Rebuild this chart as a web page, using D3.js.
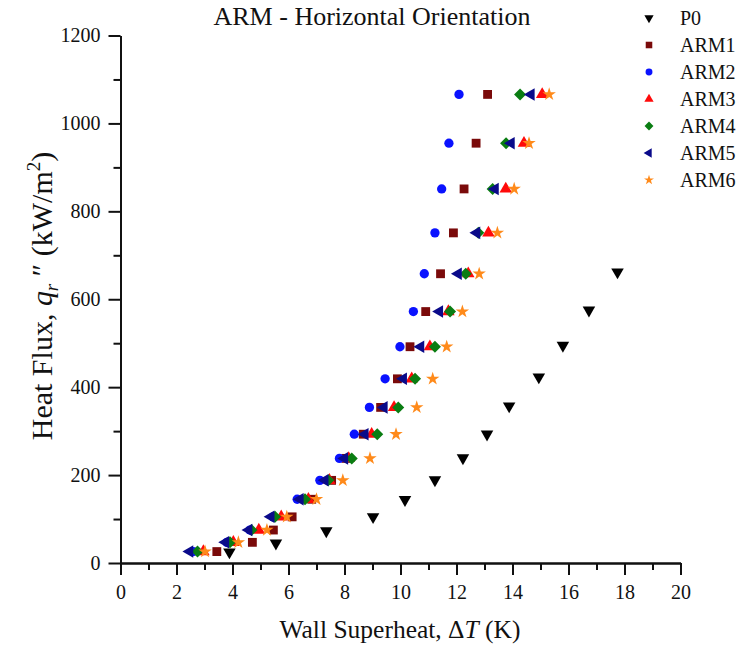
<!DOCTYPE html>
<html>
<head>
<meta charset="utf-8">
<script src="https://cdn.jsdelivr.net/npm/d3@7"></script>
<style>
  body { margin: 0; background: #fff; }
  text { font-family: "Liberation Serif", "Times New Roman", serif; fill: #111; }
</style>
</head>
<body>
<svg id="chart" width="741" height="648"></svg>
<script>
// Boiling curves: wall superheat (K) against heat flux (kW/m^2)
const seriesNames = ["P0", "ARM1", "ARM2", "ARM3", "ARM4", "ARM5", "ARM6"];

const p0Superheat = [3.89, 5.55, 7.35, 9.02, 10.16, 11.23, 12.23, 13.09, 13.88, 14.94, 15.80, 16.73, 17.75];
const p0Flux      = [25, 45, 73, 105, 144, 189, 239, 293, 357, 423, 495, 575, 662];

const armFlux = [26, 47, 75, 105, 145, 188, 238, 293, 354, 419, 492, 572, 658, 751, 851, 955, 1066];
const arm1Superheat = [3.44, 4.71, 5.46, 6.13, 6.83, 7.54, 8.05, 8.67, 9.29, 9.89, 10.34, 10.90, 11.43, 11.89, 12.27, 12.70, 13.11];
const arm2Superheat = [2.60, 3.80, 4.62, 5.45, 6.31, 7.12, 7.82, 8.35, 8.89, 9.45, 9.98, 10.46, 10.85, 11.23, 11.47, 11.73, 12.09];
const arm3Superheat = [2.96, 4.03, 4.94, 5.74, 6.71, 7.46, 8.15, 8.97, 9.77, 10.40, 11.05, 11.71, 12.42, 13.14, 13.76, 14.41, 15.06];
const arm4Superheat = [2.75, 3.91, 4.68, 5.52, 6.59, 7.42, 8.26, 9.17, 9.92, 10.52, 11.23, 11.77, 12.33, 12.78, 13.29, 13.77, 14.27];
const arm5Superheat = [2.47, 3.75, 4.58, 5.37, 6.41, 7.30, 8.00, 8.73, 9.41, 10.10, 10.72, 11.39, 12.06, 12.72, 13.38, 13.95, 14.66];
const arm6Superheat = [3.02, 4.21, 5.23, 5.94, 7.00, 7.94, 8.91, 9.84, 10.58, 11.15, 11.65, 12.21, 12.81, 13.46, 14.06, 14.59, 15.31];

const xMajorTicks = [0, 2, 4, 6, 8, 10, 12, 14, 16, 18, 20];
const xMinorTicks = [1, 3, 5, 7, 9, 11, 13, 15, 17, 19];
const yMajorTicks = [0, 200, 400, 600, 800, 1000, 1200];
const yMinorTicks = [100, 300, 500, 700, 900, 1100];

// marker style per series
const markerStyle = {
  P0:   { type: d3.symbolTriangle, size: 68, rotate: 180, color: "#000000" },
  ARM1: { type: d3.symbolSquare,   size: 78, rotate: 0,   color: "#7a0a0a" },
  ARM2: { type: d3.symbolCircle,   size: 68, rotate: 0,   color: "#0a12ff" },
  ARM3: { type: d3.symbolTriangle, size: 68, rotate: 0,   color: "#ff0a0a" },
  ARM4: { type: d3.symbolSquare,   size: 72, rotate: 45,  color: "#0a7d12" },
  ARM5: { type: d3.symbolTriangle, size: 68, rotate: -90, color: "#0a0a8a" },
  ARM6: { type: d3.symbolStar,     size: 56, rotate: 0,   color: "#ff8a1a" }
};

const seriesData = [
  { name: "P0",   x: p0Superheat,   y: p0Flux },
  { name: "ARM1", x: arm1Superheat, y: armFlux },
  { name: "ARM2", x: arm2Superheat, y: armFlux },
  { name: "ARM3", x: arm3Superheat, y: armFlux },
  { name: "ARM4", x: arm4Superheat, y: armFlux },
  { name: "ARM5", x: arm5Superheat, y: armFlux },
  { name: "ARM6", x: arm6Superheat, y: armFlux }
];

const svg = d3.select("#chart");
const x = d3.scaleLinear().domain([0, 20]).range([120.5, 680.5]);
const y = d3.scaleLinear().domain([0, 1200]).range([563, 35.5]);
const serif = '"Liberation Serif", "Times New Roman", serif';

// axes: minor ticks first, then labelled major ticks
function styleAxis(g) {
  g.attr("font-family", serif).attr("font-size", 20);
  g.selectAll("path.domain").attr("stroke", "#111").attr("stroke-width", 2);
  g.selectAll(".tick line").attr("stroke", "#111").attr("stroke-width", 2);
  g.selectAll(".tick text").attr("fill", "#111").style("font-size", "20px").style("font-family", serif);
}

svg.append("g").attr("transform", `translate(0,${y(0)})`)
  .call(d3.axisBottom(x).tickValues(xMinorTicks).tickSize(7).tickSizeOuter(0).tickFormat(""))
  .call(styleAxis);
svg.append("g").attr("transform", `translate(0,${y(0)})`)
  .call(d3.axisBottom(x).tickValues(xMajorTicks).tickSize(12).tickSizeOuter(0).tickPadding(10).tickFormat(d3.format("d")))
  .call(styleAxis);

svg.append("g").attr("transform", `translate(${x(0)},0)`)
  .call(d3.axisLeft(y).tickValues(yMinorTicks).tickSize(7).tickSizeOuter(0).tickFormat(""))
  .call(styleAxis);
svg.append("g").attr("transform", `translate(${x(0)},0)`)
  .call(d3.axisLeft(y).tickValues(yMajorTicks).tickSize(12).tickSizeOuter(0).tickPadding(8).tickFormat(d3.format("d")))
  .call(styleAxis);

// data markers
const sym = d3.symbol();
const plot = svg.append("g");
seriesData.forEach(s => {
  const st = markerStyle[s.name];
  plot.append("g").selectAll("path")
    .data(s.x.map((v, i) => [v, s.y[i]]))
    .join("path")
    .attr("d", sym.type(st.type).size(st.size)())
    .attr("transform", d => `translate(${x(d[0])},${y(d[1])}) rotate(${st.rotate})`)
    .attr("fill", st.color);
});

// title
svg.append("text").attr("x", 372).attr("y", 25).attr("text-anchor", "middle")
  .style("font-size", "26px").text("ARM - Horizontal Orientation");

// x axis title
const xt = svg.append("text").attr("x", 400).attr("y", 638).attr("text-anchor", "middle")
  .style("font-size", "25.5px");
xt.append("tspan").text("Wall Superheat, \u0394");
xt.append("tspan").style("font-style", "italic").text("T");
xt.append("tspan").text(" (K)");

// y axis title
const yt = svg.append("text").attr("transform", "translate(52,296) rotate(-90)")
  .attr("text-anchor", "middle").style("font-size", "30px");
yt.append("tspan").text("Heat Flux, ");
yt.append("tspan").style("font-style", "italic").text("q");
yt.append("tspan").style("font-style", "italic").style("font-size", "19px").attr("dy", 6).text("r");
yt.append("tspan").attr("dy", -6).text(" \u2033 (kW/m");
yt.append("tspan").style("font-size", "19px").attr("dy", -12).text("2");
yt.append("tspan").attr("dy", 12).text(")");

// legend
const legend = svg.append("g");
seriesNames.forEach((name, i) => {
  const st = markerStyle[name];
  const ly = 18 + i * 27;
  legend.append("path")
    .attr("d", sym.type(st.type).size(st.size * 0.55)())
    .attr("transform", `translate(649,${ly}) rotate(${st.rotate})`)
    .attr("fill", st.color);
  legend.append("text").attr("x", 680).attr("y", ly + 7)
    .style("font-size", "20px").text(name);
});
</script>
</body>
</html>
